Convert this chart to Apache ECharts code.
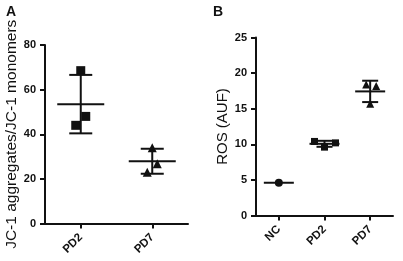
<!DOCTYPE html>
<html><head><meta charset="utf-8">
<script src="https://cdn.jsdelivr.net/npm/echarts@6/dist/echarts.min.js"></script>
<style>html,body{margin:0;padding:0;background:#fff}#c{width:403px;height:261px}</style>
</head><body><div id="c"></div>
<script>
// Panel A data
const catsA = ['PD2', 'PD7'];
const ptsA_PD2 = [68.5, 48, 44];
const ptsA_PD7 = [34, 26.8, 23];
const meanA = [53.5, 27.9];
const sdA = [13.1, 5.6];
const yTicksA = [0, 20, 40, 60, 80];
// Panel B data
const catsB = ['NC', 'PD2', 'PD7'];
const ptsB_NC = [4.6];
const ptsB_PD2 = [10.4, 9.6, 10.2];
const ptsB_PD7 = [18.4, 18.2, 15.7];
const meanB = [4.6, 10.07, 17.43];
const sdB = [0, 0.42, 1.5];
const yTicksB = [0, 5, 10, 15, 20, 25];

const C = '#111';
const font = 'Arial, "Liberation Sans", sans-serif';

function meanSd(xi, yi, means, sds, meanHalf, capHalf) {
  return {
    type: 'custom', xAxisIndex: xi, yAxisIndex: yi, z: 3,
    data: means.map((m, i) => [i, m, m - sds[i], m + sds[i]]),
    renderItem: function (params, api) {
      const x = api.value(0);
      const pm = api.coord([x, api.value(1)]);
      const pl = api.coord([x, api.value(2)]);
      const ph = api.coord([x, api.value(3)]);
      const st = { stroke: C, lineWidth: 2 };
      const ch = [{ type: 'line', shape: { x1: pm[0] - meanHalf, y1: pm[1], x2: pm[0] + meanHalf, y2: pm[1] }, style: st }];
      if (api.value(3) - api.value(2) > 0) {
        ch.push({ type: 'line', shape: { x1: pm[0], y1: ph[1], x2: pm[0], y2: pl[1] }, style: st });
        ch.push({ type: 'line', shape: { x1: pm[0] - capHalf, y1: ph[1], x2: pm[0] + capHalf, y2: ph[1] }, style: st });
        ch.push({ type: 'line', shape: { x1: pm[0] - capHalf, y1: pl[1], x2: pm[0] + capHalf, y2: pl[1] }, style: st });
      }
      return { type: 'group', children: ch };
    }
  };
}
function pts(xi, yi, cat, vals, symbol, size, offs) {
  return {
    type: 'scatter', xAxisIndex: xi, yAxisIndex: yi, z: 2,
    symbol: symbol, symbolSize: size,
    itemStyle: { color: C, opacity: 1 },
    emphasis: { disabled: true },
    data: vals.map((v, i) => ({ value: [cat, v], symbolOffset: [offs[i] || 0, 0] }))
  };
}
const axisLine = { show: true, lineStyle: { color: C, width: 2 } };
const axisTick = { show: true, length: 5, lineStyle: { color: C, width: 2 } };
function yAx(gi, ticks, name, gap, nameSize) {
  return {
    type: 'value', gridIndex: gi, min: ticks[0], max: ticks[ticks.length - 1],
    interval: ticks[1] - ticks[0],
    axisLine: axisLine, axisTick: axisTick, splitLine: { show: false },
    axisLabel: { color: C, fontSize: 11, fontWeight: 'bold', fontFamily: font, margin: 9 },
    name: name, nameLocation: 'middle', nameGap: gap, nameRotate: 90,
    nameTextStyle: { color: C, fontSize: nameSize, fontFamily: font }
  };
}
function xAx(gi, cats) {
  return {
    type: 'category', gridIndex: gi, data: cats, boundaryGap: true,
    axisLine: axisLine, axisTick: { show: true, alignWithLabel: true, length: 5, lineStyle: { color: C, width: 2 } },
    axisLabel: { color: C, fontSize: 11.5, fontWeight: 'bold', fontFamily: font, rotate: 45, margin: 12 }
  };
}
const chart = echarts.init(document.getElementById('c'), null, { renderer: 'canvas' });
chart.setOption({
  animation: false,
  backgroundColor: '#fff',
  title: [
    { text: 'A', left: 1, top: 0, textStyle: { fontSize: 14, fontWeight: 'bold', color: C, fontFamily: font } },
    { text: 'B', left: 208, top: 0, textStyle: { fontSize: 14, fontWeight: 'bold', color: C, fontFamily: font } }
  ],
  grid: [
    { left: 45, top: 45, width: 143, height: 178.5 },
    { left: 256, top: 37.5, width: 137, height: 178 }
  ],
  xAxis: [xAx(0, catsA), xAx(1, catsB)],
  yAxis: [yAx(0, yTicksA, 'JC-1 aggregates/JC-1 monomers', 24, 15.5), yAx(1, yTicksB, 'ROS (AUF)', 26, 15)],
  series: [
    pts(0, 0, 'PD2', ptsA_PD2, 'rect', 9, [0, 5, -5]),
    pts(0, 0, 'PD7', ptsA_PD7, 'triangle', 9, [0, 5, -5]),
    meanSd(0, 0, meanA, sdA, 23.5, 11.5),
    pts(1, 1, 'NC', ptsB_NC, 'circle', 8, [0]),
    pts(1, 1, 'PD2', ptsB_PD2, 'rect', 7, [-10, 0, 11]),
    pts(1, 1, 'PD7', ptsB_PD7, 'triangle', 8, [-4, 6, 0]),
    meanSd(1, 1, meanB, sdB, 15, 8)
  ]
});
</script></body></html>
